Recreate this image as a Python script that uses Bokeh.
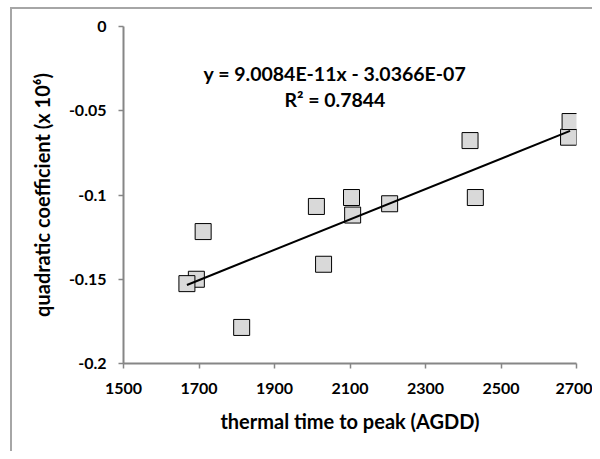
from bokeh.plotting import figure
from bokeh.models import ColumnDataSource, FixedTicker, Label
from bokeh.embed import file_html
from bokeh.resources import INLINE

# ---- data ----
thermal_time = [1693, 1668, 1711, 1813, 2011, 2030, 2104, 2107, 2205, 2418, 2432, 2679, 2683]
quad_coef = [-0.1500, -0.1526, -0.1217, -0.1786, -0.1068, -0.1411, -0.1015, -0.1119,
             -0.1052, -0.0677, -0.1015, -0.0657, -0.0564]

slope = 9.0084e-11 * 1e6
intercept = -3.0366e-07 * 1e6

x_ticks = [1500, 1700, 1900, 2100, 2300, 2500, 2700]
y_ticks = [0, -0.05, -0.1, -0.15, -0.2]
y_tick_labels = ["0", "-0.05", "-0.1", "-0.15", "-0.2"]

eq_text = "y = 9.0084E-11x - 3.0366E-07"
r2_text = "R\u00b2 = 0.7844"

FONT = "Lato"
BORDER = "#a6a6a6"

# outer chart-area border (only its top and left edges are visible in the reference),
# drawn as a CSS background behind a transparent canvas border area
border_css = {
    "background-color": "white",
    "background-image": f"linear-gradient({BORDER},{BORDER}), linear-gradient({BORDER},{BORDER})",
    "background-position": "10px 7px, 10px 7px",
    "background-size": "2px 100%, 100% 2px",
    "background-repeat": "no-repeat, no-repeat",
}

p = figure(width=592, height=451, output_backend="svg", toolbar_location=None,
           x_range=(1500, 2700), y_range=(-0.2, 0),
           min_border_left=123, min_border_right=16, min_border_top=26, min_border_bottom=88,
           styles=border_css)
p.border_fill_color = None
p.background_fill_color = None
p.outline_line_color = None
p.xgrid.visible = False
p.ygrid.visible = False

for ax in (p.xaxis[0], p.yaxis[0]):
    ax.axis_line_color = "#868686"
    ax.axis_line_width = 2
    ax.major_tick_line_color = "#868686"
    ax.major_tick_line_width = 1.5
    ax.major_tick_in = 0
    ax.major_tick_out = 5
    ax.minor_tick_line_color = None
    ax.major_label_text_font = FONT
    ax.major_label_text_font_style = "bold"
    ax.major_label_text_font_size = "16px"
    ax.major_label_text_color = "black"
    ax.axis_label_text_font = FONT
    ax.axis_label_text_font_style = "bold"
    ax.axis_label_text_font_size = "20px"
    ax.axis_label_text_color = "black"

p.xaxis[0].ticker = FixedTicker(ticks=x_ticks)
p.yaxis[0].ticker = FixedTicker(ticks=y_ticks)
p.yaxis[0].major_label_overrides = {t: l for t, l in zip(y_ticks, y_tick_labels)}
p.xaxis[0].major_label_standoff = 14
p.yaxis[0].major_label_standoff = 12
p.xaxis[0].axis_label = "thermal time to peak (AGDD)"
p.yaxis[0].axis_label = "quadratic coefficient (x 10\u2076)"
p.xaxis[0].axis_label_standoff = 12
p.yaxis[0].axis_label_standoff = 12

src = ColumnDataSource(data=dict(x=thermal_time, y=quad_coef))
p.scatter("x", "y", source=src, marker="square", size=16,
          fill_color="#d9d9d9", line_color="black", line_width=1)

x_line = [min(thermal_time), max(thermal_time)]
y_line = [slope * xv + intercept for xv in x_line]
p.line(x_line, y_line, line_color="black", line_width=2)

p.add_layout(Label(x=2060, y=-0.0279, text=eq_text, text_align="center",
                   text_baseline="alphabetic", text_font=FONT, text_font_style="bold",
                   text_font_size="19.5px", text_color="black"))
p.add_layout(Label(x=2060, y=-0.0433, text=r2_text, text_align="center",
                   text_baseline="alphabetic", text_font=FONT, text_font_style="bold",
                   text_font_size="19.5px", text_color="black"))

open("out.html", "w").write(file_html(p, INLINE))
